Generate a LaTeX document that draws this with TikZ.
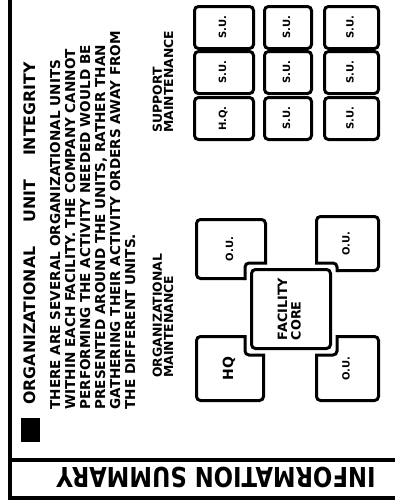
\documentclass[tikz,border=0pt]{standalone}
\usepackage{fontspec}
\setmainfont{DejaVu Sans}
\usepackage{graphicx}
\usetikzlibrary{calc}

\newcommand{\vlab}[1]{\rotatebox{90}{\begin{tabular}{@{}l@{}}#1\end{tabular}}}

\begin{document}
\begin{tikzpicture}[
  x=0.5pt, y=-0.5pt,
  font=\bfseries,
  unit/.style={
    rectangle, rounded corners=2pt, draw=black, fill=white,
    line width=1.5pt, inner sep=0pt,
    font=\fontsize{5}{5.5}\selectfont\bfseries
  },
  grid1/.style={unit, minimum width=29.5pt, minimum height=21pt},
  grid2/.style={unit, minimum width=23.5pt, minimum height=21pt},
  grid3/.style={unit, minimum width=27pt,   minimum height=21pt},
  core/.style={unit, minimum width=39.5pt, minimum height=39.5pt,
    font=\fontsize{6.4}{6.6}\selectfont\bfseries},
  vtext/.style={rotate=90, anchor=base west, align=left, inner sep=0pt},
  bullet/.style={rectangle, fill=black, inner sep=0pt,
    minimum width=9.5pt, minimum height=12pt},
  frame/.style={line width=2pt},
]
\useasboundingbox (0,0) rectangle (395,503);
%% Frame and strip
\draw[frame] (10,0) -- (10,497.5) -- (395,497.5);
\draw[frame] (10,459.5) -- (395,459.5);
\node[rotate=180, inner sep=0pt, font=\fontsize{13.7}{14}\selectfont\bfseries]
  (STRIP) at (216,477) {\scalebox{0.83}[1]{INFORMATION SUMMARY}};
%% Heading and text (base = last line)
\node[bullet] (BUL) at (30.5,430) {};
\node[vtext, font=\fontsize{7.9}{8}\selectfont\bfseries] (TITLE) at (35,405)
  {ORGANIZATIONAL\hspace{12pt}UNIT\hspace{12pt}INTEGRITY};
\node[vtext, font=\fontsize{6.8}{7.5}\selectfont\bfseries] (BODY) at (135,410)
  {THERE ARE SEVERAL ORGANIZATIONAL UNITS\\
   WITHIN EACH FACILITY. THE COMPANY CANNOT\\
   PERFORMING THE ACTIVITY NEEDED WOULD BE\\
   PRESENTED AROUND THE UNITS, RATHER THAN\\
   GATHERING THEIR ACTIVITY ORDERS AWAY FROM\\
   THE DIFFERENT UNITS.};
\node[vtext, font=\fontsize{6.2}{5.6}\selectfont\bfseries] (SUPLAB) at (173,133)
  {SUPPORT\\MAINTENANCE};
\node[vtext, font=\fontsize{6.2}{5.6}\selectfont\bfseries] (ORGLAB) at (173,378)
  {ORGANIZATIONAL\\MAINTENANCE};
%% Support units
\node[grid1] (SU11) at (224,27.5)  {\vlab{S.U.}};
\node[grid1] (SU12) at (224,72.5)  {\vlab{S.U.}};
\node[grid1] (SU13) at (224,118.5) {\vlab{H.Q.}};
\node[grid2] (SU21) at (288,27.5)  {\vlab{S.U.}};
\node[grid2] (SU22) at (288,72.5)  {\vlab{S.U.}};
\node[grid2] (SU23) at (288,118.5) {\vlab{S.U.}};
\node[grid3] (SU31) at (351.5,27.5)  {\vlab{S.U.}};
\node[grid3] (SU32) at (351.5,72.5)  {\vlab{S.U.}};
\node[grid3] (SU33) at (351.5,118.5) {\vlab{S.U.}};
%% Organizational units
\node[unit, minimum width=34.5pt, minimum height=29.5pt] (OU1) at (231,249)   {\vlab{O.U.}};
\node[unit, minimum width=31pt,   minimum height=27pt]   (OU2) at (347.5,243.5) {\vlab{O.U.}};
\node[unit, minimum width=33.5pt, minimum height=32pt, font=\fontsize{7}{7.5}\selectfont\bfseries]
  (HQ) at (230,368.5) {\vlab{HQ}};
\node[unit, minimum width=31pt,   minimum height=32pt]   (OU3) at (347.5,368.5) {\vlab{O.U.}};
%% Core with notch
\coordinate (CORE) at (291,309);
\path (CORE) node[core, draw=none, fill=none] (COREBOX) {};
\fill[white] ($(COREBOX.south west)+(-5,5)$) rectangle ($(COREBOX.north east)+(5,-5)$);
\begin{scope}
  \clip (OU1.south west) rectangle (OU1.north east)
        (OU2.south west) rectangle (OU2.north east)
        (HQ.south west)  rectangle (HQ.north east)
        (OU3.south west) rectangle (OU3.north east);
  \draw[line width=1.5pt, rounded corners=2pt]
    ($(COREBOX.south west)+(-5,5)$) rectangle ($(COREBOX.north east)+(5,-5)$);
\end{scope}
\node[core] (FAC) at (CORE) {\vlab{FACILITY\\CORE}};
\end{tikzpicture}
\end{document}
